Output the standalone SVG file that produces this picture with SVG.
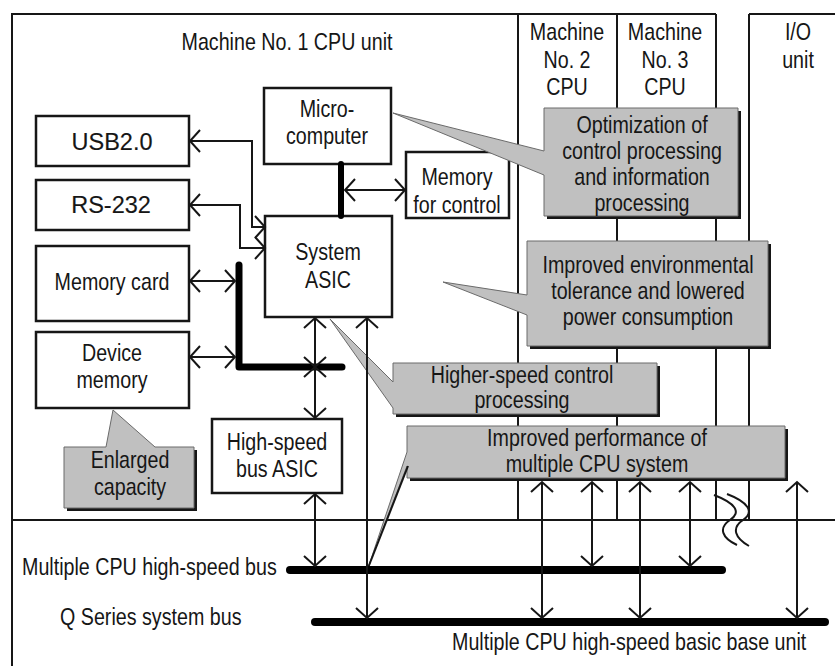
<svg xmlns="http://www.w3.org/2000/svg" width="835" height="666" viewBox="0 0 835 666">
<defs>
<style>
text{font-family:"Liberation Sans",Arial,sans-serif;font-size:24px;fill:#161616;text-anchor:middle}
.l{text-anchor:start}
.w{font-size:23.5px;stroke:#161616;stroke-width:0.15}
.frame{stroke:#161616;stroke-width:2;fill:none}
.box{fill:#fff;stroke:#161616;stroke-width:2.5}
.co{fill:#c0c0c0;stroke:#6a6a6a;stroke-width:1}
.sh{fill:#161616}
.cn{fill:none;stroke:#161616;stroke-width:2;marker-start:url(#ah);marker-end:url(#ah)}
.bar{fill:none;stroke:#000;stroke-linecap:round;stroke-linejoin:round}
</style>
<marker id="ah" viewBox="-12 -13 14 26" refX="0" refY="0" markerWidth="14" markerHeight="26" markerUnits="userSpaceOnUse" orient="auto-start-reverse">
<path d="M-10,-11 L0,0 L-10,11" fill="none" stroke="#161616" stroke-width="2"/>
</marker>
</defs>
<rect width="835" height="666" fill="#fff"/>
<g id="frame" class="frame">
<path d="M12,666 V14 H716 M749,14 H835 M12,520 H835 M518,14 V520 M617,14 V520 M716,14 V520 M749,14 V520"/>
<path d="M714,495 C735,503 742,512 730,520 C718,528 722,538 737,545 M727,494 C748,502 755,512 743,520 C731,528 735,538 749,546"/>
</g>
<g id="machine1"><text transform="translate(287,50) scale(.82,1)">Machine No. 1 CPU unit</text></g>
<g id="machine2"><text transform="translate(567,40) scale(.82,1)">Machine</text><text transform="translate(567,68) scale(.82,1)">No. 2</text><text transform="translate(567,95) scale(.82,1)">CPU</text></g>
<g id="machine3"><text transform="translate(665,40) scale(.82,1)">Machine</text><text transform="translate(665,68) scale(.82,1)">No. 3</text><text transform="translate(665,95) scale(.82,1)">CPU</text></g>
<g id="io-unit"><text transform="translate(798,40) scale(.82,1)">I/O</text><text transform="translate(798,68) scale(.82,1)">unit</text></g>
<g id="usb"><rect class="box" x="36" y="116" width="153" height="50"/><text class="w" x="112" y="150">USB2.0</text></g>
<g id="rs232"><rect class="box" x="36" y="180" width="153" height="50"/><text class="w" x="111" y="213">RS-232</text></g>
<g id="memory-card"><rect class="box" x="36" y="246" width="153" height="75"/><text transform="translate(112,290) scale(.82,1)">Memory card</text></g>
<g id="device-memory"><rect class="box" x="36" y="332" width="153" height="76"/><text transform="translate(112,361) scale(.82,1)">Device</text><text transform="translate(112,388) scale(.82,1)">memory</text></g>
<g id="micro"><rect class="box" x="264" y="88" width="127" height="76"/><text transform="translate(327,117) scale(.82,1)">Micro-</text><text transform="translate(327,144) scale(.82,1)">computer</text></g>
<g id="system-asic"><rect class="box" x="265" y="216" width="127" height="101"/><text transform="translate(328,260) scale(.82,1)">System</text><text transform="translate(328,288) scale(.82,1)">ASIC</text></g>
<g id="memory-control"><rect class="box" x="406" y="152" width="103" height="66"/><text transform="translate(457,185) scale(.82,1)">Memory</text><text transform="translate(457,213) scale(.82,1)">for control</text></g>
<g id="hs-bus-asic"><rect class="box" x="212" y="419" width="130" height="74"/><text transform="translate(277,450) scale(.82,1)">High-speed</text><text transform="translate(277,477) scale(.82,1)">bus ASIC</text></g>
<g id="callout-optimization">
<rect class="sh" x="547" y="111" width="194" height="108"/>
<path class="co" d="M544,108 H738 V216 H544 V175 L393,113 L544,151 Z"/>
<text transform="translate(642,133) scale(.82,1)">Optimization of</text><text transform="translate(642,159) scale(.82,1)">control processing</text><text transform="translate(642,185) scale(.82,1)">and information</text><text transform="translate(642,211) scale(.82,1)">processing</text>
</g>
<g id="callout-environment">
<rect class="sh" x="530" y="244" width="241" height="105"/>
<path class="co" d="M527,241 H768 V346 H527 V315 L443,282 L527,295 Z"/>
<text transform="translate(648,273) scale(.82,1)">Improved environmental</text><text transform="translate(648,299) scale(.82,1)">tolerance and lowered</text><text transform="translate(648,325) scale(.82,1)">power consumption</text>
</g>
<g id="callout-speed">
<rect class="sh" x="396" y="366" width="264" height="51"/>
<path class="co" d="M393,363 H657 V414 H393 V408 L330,319 L393,382 Z"/>
<text transform="translate(522,383) scale(.82,1)">Higher-speed control</text><text transform="translate(522,408) scale(.82,1)">processing</text>
</g>
<g id="callout-performance">
<rect class="sh" x="410" y="429" width="378" height="52"/>
<path class="co" d="M407,426 H785 V478 H407 V466 L368,568 L407,452 Z"/>
<path d="M368,568 L408,466" stroke="#161616" stroke-width="2" fill="none"/>
<text transform="translate(597,446) scale(.82,1)">Improved performance of</text><text transform="translate(597,472) scale(.82,1)">multiple CPU system</text>
</g>
<g id="callout-capacity">
<rect class="sh" x="67" y="450" width="130" height="61"/>
<path class="co" d="M64,447 H106 L113,410 L155,447 H194 V508 H64 Z"/>
<text transform="translate(130,468) scale(.82,1)">Enlarged</text><text transform="translate(130,495) scale(.82,1)">capacity</text>
</g>
<g id="connectors">
<path class="bar" stroke-width="6" d="M341,164 V216"/>
<path class="bar" stroke-width="7" d="M239,265 V367 H342"/>
<path class="bar" stroke-width="8" d="M290,570 H722"/>
<path class="bar" stroke-width="8" d="M315,622 H825"/>
<path class="cn" d="M265,227 H252 V141 H190"/>
<path class="cn" d="M265,248 H240 V205 H190"/>
<path class="cn" d="M190,281 H235"/>
<path class="cn" d="M190,357 H235"/>
<path class="cn" d="M345,190 H405"/>
<path class="cn" d="M315,318 V367"/>
<path class="cn" d="M315,367 V418"/>
<path class="cn" d="M315,494 V566"/>
<path class="cn" d="M367,318 V618"/>
<path class="cn" d="M542,482 V618"/>
<path class="cn" d="M592,482 V566"/>
<path class="cn" d="M640,482 V618"/>
<path class="cn" d="M690,482 V566"/>
<path class="cn" d="M797,482 V618"/>
</g>
<g id="bus-labels">
<text class="l" transform="translate(22,575) scale(.82,1)">Multiple CPU high-speed bus</text>
<text class="l" transform="translate(60,625) scale(.82,1)">Q Series system bus</text>
<text class="l" transform="translate(452,650) scale(.82,1)">Multiple CPU high-speed basic base unit</text>
</g>
</svg>
